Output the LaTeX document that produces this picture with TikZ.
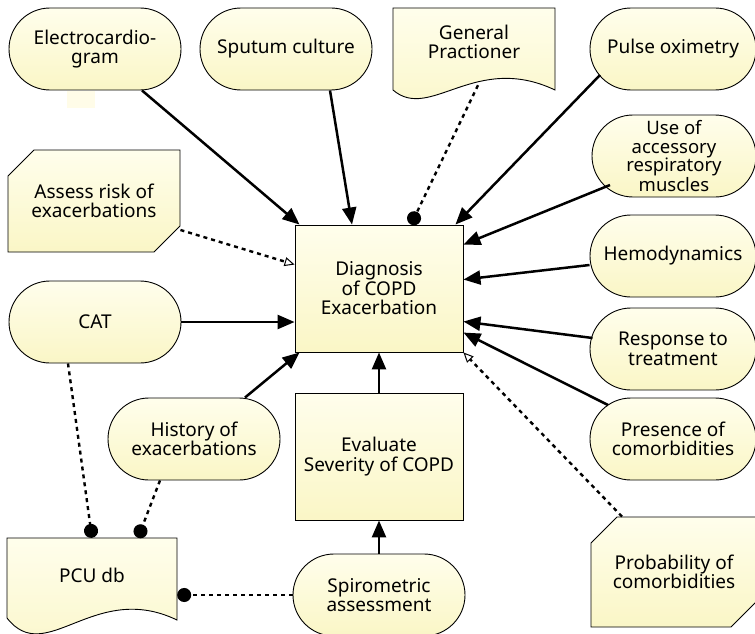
\documentclass[tikz,border=0pt]{standalone}
\usepackage{fontspec}
\setmainfont{Noto Sans}
\usetikzlibrary{shapes.misc,arrows.meta,calc}
\definecolor{fillA}{RGB}{255,254,236}
\definecolor{fillB}{RGB}{250,246,198}
\definecolor{ghost}{RGB}{255,252,232}
\tikzset{
  txt/.style={align=center, font=\fontsize{19}{19.5}\selectfont, inner sep=0pt},
  shaded/.style={draw, line width=0.9pt, top color=fillA, bottom color=fillB},
  box/.style={txt, shaded},
  stadium/.style={box, rounded corners=41pt, minimum width=172pt, minimum height=82pt},
  procbox/.style={box, minimum width=168pt, minimum height=127pt},
  cutbox/.style={box, chamfered rectangle, chamfered rectangle corners={north west,south east},
                 chamfered rectangle xsep=13pt, chamfered rectangle ysep=13pt},
  flow/.style={line width=2.5pt, -{Triangle[length=17pt,width=14pt]}},
  dep/.style={line width=2.4pt, dash pattern=on 4pt off 4pt, -{Circle[length=14pt]}},
  hint/.style={line width=2.4pt, dash pattern=on 4pt off 4pt,
               -{Triangle[open,length=10pt,width=9pt,line width=1pt]}},
}
\begin{document}
\begin{tikzpicture}[x=1pt, y=-1pt]
\useasboundingbox (0,0) rectangle (755,634);

% faint patch below the ECG node
\fill[ghost] (67,91) rectangle (95,108);

% document shapes (wavy bottom)
\path[shaded] (393,8) -- (555,8) -- (555,90)
  .. controls (475,52) and (430,122) .. (393,90) -- cycle;
\path[shaded] (7,538) -- (177,538) -- (177,620)
  .. controls (94,580) and (46,668) .. (7,618) -- cycle;

% nodes
\node[stadium] (ecg) at (95,49) {Electrocardio-\\gram};
\node[stadium] (sput) at (286,49) {Sputum culture};
\node[txt, minimum width=162pt, minimum height=68pt] (gp) at (474,42) {General\\Practioner};
\node[stadium, minimum width=166pt] (pulse) at (673,49) {Pulse oximetry};
\node[stadium, minimum width=164pt, font=\fontsize{18.5}{18.3}\selectfont] (uoa) at (674,156)
  {Use of\\accessory\\respiratory\\muscles};
\node[stadium, minimum width=166pt] (hemo) at (673,256) {Hemodynamics};
\node[stadium, minimum width=166pt] (resp) at (673,349) {Response to\\treatment};
\node[stadium, minimum width=166pt] (pres) at (673,439) {Presence of\\comorbidities};
\node[cutbox, minimum width=166pt, minimum height=110pt] (prob) at (674,572)
  {Probability of\\comorbidities};
\node[procbox] (diag) at (379,288.5) {Diagnosis\\of COPD\\Exacerbation};
\node[cutbox, minimum width=172pt, minimum height=102pt] (risk) at (94,201)
  {Assess risk of\\exacerbations};
\node[stadium] (cat) at (95,322) {CAT};
\node[stadium] (hist) at (194,439) {History of\\exacerbations};
\node[procbox] (eval) at (379,456.5) {Evaluate\\Severity of COPD};
\node[txt, minimum width=170pt, minimum height=74pt] (pcu) at (92,575) {PCU db};
\node[stadium] (spiro) at (379,595) {Spirometric\\assessment};

% connectors
\draw[flow] ([shift={(47,0)}]ecg.south) -- ([shift={(5,0)}]diag.north west);
\draw[flow] ([shift={(44,0)}]sput.south) -- ([shift={(-27,0)}]diag.north);
\draw[dep] ([shift={(4,9)}]gp.south) -- ([shift={(32,0)}]diag.north);
\draw[flow] ([shift={(-73,26)}]pulse.center) -- ([shift={(-8,0)}]diag.north east);
\draw[flow] ([shift={(-64,29)}]uoa.center) -- ([shift={(0,20)}]diag.north east);
\draw[flow] ([shift={(0,9)}]hemo.west) -- ([shift={(0,55)}]diag.north east);
\draw[flow] ([shift={(3,-11)}]resp.west) -- ([shift={(0,97)}]diag.north east);
\draw[flow] ([shift={(-65,-34)}]pres.center) -- ([shift={(0,108)}]diag.north east);
\draw[hint] ([shift={(-52,0)}]prob.north) -- (diag.south east);
\draw[hint] ([shift={(0,29)}]risk.east) -- ([shift={(0,40)}]diag.north west);
\draw[flow] (cat.east) -- (cat.east -| diag.west);
\draw[flow] ([shift={(51,0)}]hist.north) -- ([shift={(5,0)}]diag.south west);
\draw[flow] (eval.north) -- (diag.south);
\draw[flow] (spiro.north) -- (eval.south);
\draw[dep] ([shift={(-27,0)}]cat.south) -- (pcu.north);
\draw[dep] ([shift={(-34,0)}]hist.south) -- ([shift={(46,0)}]pcu.north);
\draw[dep] (spiro.west) -- (spiro.west -| pcu.east);
\end{tikzpicture}
\end{document}
